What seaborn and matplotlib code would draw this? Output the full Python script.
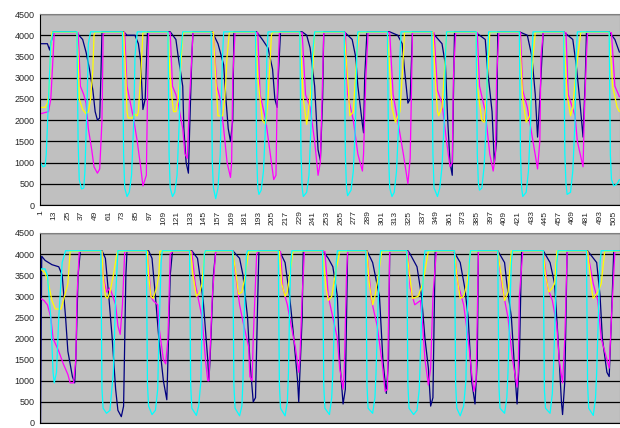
import numpy as np
import pandas as pd
import matplotlib
matplotlib.use("Agg")
import matplotlib.pyplot as plt
import seaborn as sns

# ---- top panel: sample index (t) and reading (v) per channel ----
top_cyan_t = [1, 3, 5, 6, 8, 10, 12,
              33, 34, 35, 37, 39, 40, 42, 43, 45,
              73, 74, 75, 77, 79, 81, 83, 84, 86,
              113, 114, 115, 117, 119, 121, 123, 124, 126,
              151, 152, 153, 155, 157, 159, 160, 161, 162,
              190, 191, 192, 193, 195, 197, 199, 200, 201,
              229, 230, 231, 232, 235, 237, 239, 240, 242,
              268, 269, 270, 271, 274, 276, 278, 279, 280,
              306, 307, 308, 310, 312, 314, 316, 317, 318,
              345, 346, 347, 350, 352, 354, 356, 357, 358,
              384, 385, 386, 387, 389, 391, 393, 394, 395,
              422, 423, 424, 425, 428, 430, 432, 433, 434,
              461, 462, 463, 464, 467, 469, 471, 472, 473,
              501, 502, 503, 505, 508, 510]
top_cyan_v = [1000, 900, 920, 1200, 2500, 3800, 4080,
              4080, 1500, 600, 380, 400, 800, 2500, 3800, 4080,
              4080, 1200, 400, 200, 300, 700, 2000, 3500, 4080,
              4080, 1200, 400, 200, 300, 700, 2000, 3500, 4080,
              4080, 1000, 400, 150, 400, 1200, 2500, 3500, 4080,
              4080, 1200, 400, 250, 350, 800, 2000, 3500, 4080,
              4080, 1200, 400, 200, 300, 700, 2000, 3500, 4080,
              4080, 1200, 400, 220, 350, 800, 2000, 3500, 4080,
              4080, 1200, 400, 200, 300, 800, 2000, 3500, 4080,
              4080, 1200, 400, 200, 400, 900, 2000, 3500, 4080,
              4080, 1200, 500, 350, 400, 900, 2000, 3500, 4080,
              4080, 1200, 400, 200, 300, 800, 2000, 3500, 4080,
              4080, 1200, 500, 250, 300, 800, 2000, 3500, 4080,
              4080, 1200, 600, 450, 500, 600]

top_yellow_t = [1, 5, 7, 8, 9, 10, 11, 33, 34, 35, 38, 41, 43, 45, 47, 48, 49, 74, 76, 77, 78, 82, 83, 86, 87, 89, 91,
                113, 115, 117, 118, 120, 122, 124, 126, 127, 153, 155, 157, 161, 163, 165, 167, 190, 192, 196, 199, 201, 204, 205,
                229, 232, 235, 236, 240, 242, 268, 271, 273, 276, 279, 281, 306, 310, 313, 317, 320, 321,
                346, 348, 350, 351, 354, 357, 358, 384, 385, 389, 391, 393, 396, 422, 425, 428, 431, 434, 436,
                461, 464, 467, 469, 472, 476, 501, 504, 508, 510]
top_yellow_v = [2300, 2300, 2400, 2600, 3000, 3700, 4070, 4070, 3500, 2500, 2250, 2150, 2200, 2500, 3200, 4000, 4070,
                4070, 3000, 2200, 2050, 2050, 2150, 2100, 2200, 3000, 4070, 4070, 3000, 2400, 2200, 2200, 2500, 3200, 4000, 4070,
                4070, 3000, 2100, 2100, 2500, 3500, 4070, 4070, 3000, 2000, 1900, 2500, 4000, 4070,
                4070, 2500, 1900, 2100, 3000, 4070, 4070, 3000, 2100, 2200, 3500, 4070, 4070, 2300, 1950, 2200, 3500, 4070,
                4070, 3000, 2200, 2100, 2300, 3500, 4070, 4070, 2800, 2000, 1950, 2500, 4070, 4070, 2500, 1950, 2100, 3500, 4070,
                4070, 2600, 2100, 2300, 3200, 4070, 4070, 2800, 2300, 2200]

top_magenta_t = [1, 8, 10, 12, 13, 34, 35, 36, 39, 41, 43, 46, 48, 51, 53, 55, 56, 57, 75, 77, 80, 83, 86, 89, 91, 94, 95, 96,
                 115, 117, 120, 122, 126, 128, 130, 132, 134, 135, 153, 156, 159, 162, 165, 168, 169, 170, 172,
                 192, 194, 199, 203, 206, 208, 209, 211, 231, 234, 238, 242, 245, 247, 249, 250,
                 269, 271, 276, 280, 284, 285, 287, 289, 308, 311, 315, 320, 324, 326, 327, 328,
                 347, 350, 354, 358, 361, 363, 364, 366, 385, 387, 392, 396, 399, 401, 402, 404,
                 423, 425, 429, 434, 438, 440, 441, 443, 463, 465, 471, 473, 478, 479, 481, 482, 503, 506, 510]
top_magenta_v = [2150, 2200, 2500, 3500, 4060, 4060, 3500, 2800, 2600, 2400, 1800, 1300, 900, 750, 850, 2000, 4000, 4060,
                 4060, 2800, 2400, 2000, 1500, 900, 450, 700, 2500, 4060, 4060, 2800, 2600, 2400, 1800, 1200, 1100, 2500, 3500, 4060,
                 4060, 2800, 2500, 1800, 1000, 650, 1000, 3000, 4060, 4060, 2600, 2000, 1200, 600, 700, 2500, 4060,
                 4060, 2600, 2300, 1500, 700, 1000, 3000, 4060, 4060, 2600, 2000, 1200, 800, 1200, 3000, 4060,
                 4060, 2600, 2000, 1200, 500, 1100, 2500, 4060, 4060, 2700, 2400, 1500, 900, 1000, 3000, 4060,
                 4060, 2800, 2200, 1200, 800, 1200, 3000, 4060, 4060, 2700, 2300, 1500, 850, 1500, 3500, 4060,
                 4060, 2600, 2100, 1500, 900, 2000, 3500, 4060, 4060, 2800, 2550]

top_navy_t = [1, 7, 9, 12, 32, 38, 41, 44, 47, 49, 51, 53, 54, 55, 74, 77, 84, 87, 89, 90, 91, 93, 95,
              115, 120, 122, 126, 127, 129, 131, 132, 134, 135, 152, 157, 162, 164, 166, 168, 170, 171,
              191, 196, 201, 205, 207, 209, 210, 212, 231, 235, 238, 242, 245, 247, 249, 250,
              268, 275, 278, 280, 284, 285, 286, 288, 308, 315, 319, 321, 324, 326, 328,
              345, 354, 357, 359, 361, 363, 364, 365, 383, 392, 394, 398, 400, 402, 403,
              422, 429, 433, 436, 438, 440, 443, 461, 469, 472, 475, 478, 480, 481, 501, 506, 510]
top_navy_v = [3800, 3800, 3650, 4080, 4080, 3900, 3600, 3200, 2700, 2200, 2000, 2050, 3000, 4080,
              4080, 4000, 4000, 3800, 3400, 2800, 2250, 2500, 4080, 4080, 3900, 3500, 2800, 1800, 1000, 750, 1700, 3500, 4080,
              4080, 3800, 3300, 2500, 1800, 1500, 2000, 4080, 4080, 3900, 3700, 3200, 2500, 2300, 3000, 4080,
              4080, 4000, 3700, 2800, 1300, 1050, 2500, 4080, 4080, 3900, 3500, 2800, 1900, 1700, 3000, 4080,
              4080, 4000, 3800, 3200, 2400, 2500, 4080, 4080, 3800, 3300, 2000, 1000, 700, 2500, 4080,
              4080, 3900, 3200, 2200, 1000, 1500, 4080, 4080, 4000, 3500, 2600, 1600, 2500, 4080,
              4080, 3900, 3300, 2500, 1600, 3000, 4080, 4080, 3900, 3600]

# ---- bottom panel ----
bot_cyan_t = [1, 5, 7, 10, 12, 13, 15, 17, 20, 23,
              54, 55, 56, 59, 62, 63, 65, 67, 69,
              94, 95, 96, 99, 102, 104, 105, 107, 108,
              132, 133, 134, 138, 140, 142, 143, 145, 146,
              170, 171, 172, 176, 178, 179, 180, 182, 183,
              210, 211, 212, 216, 218, 219, 220, 221, 222,
              249, 250, 251, 255, 257, 258, 260, 261, 262,
              287, 288, 289, 293, 295, 296, 298, 299, 300,
              323, 324, 325, 329, 332, 334, 336, 338, 339,
              365, 366, 367, 370, 373, 375, 376, 378, 379,
              403, 404, 405, 409, 411, 412, 414, 415, 416,
              443, 444, 445, 449, 451, 452, 454, 455, 456,
              481, 482, 483, 487, 489, 490, 492, 493, 494,
              510]
bot_cyan_v = [3650, 3650, 3500, 2500, 1200, 950, 1200, 2500, 3800, 4080,
              4080, 800, 350, 230, 300, 600, 1200, 3000, 4080,
              4080, 900, 400, 200, 300, 800, 2000, 3800, 4080,
              4080, 900, 350, 180, 400, 1000, 2500, 4000, 4080,
              4080, 900, 350, 170, 400, 1000, 2500, 4000, 4080,
              4080, 900, 350, 170, 500, 1200, 2800, 3800, 4080,
              4080, 900, 350, 200, 600, 1200, 3000, 3800, 4080,
              4080, 900, 350, 230, 600, 1200, 3000, 3800, 4080,
              4080, 900, 350, 200, 300, 800, 2500, 3800, 4080,
              4080, 900, 350, 170, 400, 1000, 2500, 3800, 4080,
              4080, 900, 350, 230, 600, 1200, 3000, 3800, 4080,
              4080, 800, 350, 230, 700, 1300, 3000, 3800, 4080,
              4080, 900, 350, 180, 600, 1200, 3000, 3800, 4080,
              4080]

bot_yellow_t = [1, 5, 8, 11, 14, 19, 21, 25, 27, 55, 56, 58, 60, 62, 65, 68, 69, 95, 96, 98, 100, 103, 105, 106,
                133, 135, 138, 141, 143, 145, 146, 170, 173, 175, 178, 181, 184, 211, 213, 216, 218, 220, 223,
                249, 252, 254, 257, 260, 264, 288, 290, 293, 295, 298, 301, 323, 328, 333, 337, 342,
                365, 367, 370, 373, 376, 379, 403, 407, 409, 412, 415, 443, 445, 448, 451, 453, 455,
                482, 486, 487, 491, 494, 497, 510]
bot_yellow_v = [3650, 3550, 3300, 2900, 2700, 2700, 2900, 3300, 4070, 4070, 3500, 3000, 2950, 3100, 3500, 4000, 4070,
                4070, 3500, 3000, 2950, 3200, 3500, 4070, 4070, 3500, 3000, 3100, 3300, 4000, 4070,
                4070, 3500, 3050, 3100, 3500, 4070, 4070, 3300, 3000, 3100, 3500, 4070,
                4070, 3200, 2900, 3000, 3500, 4070, 4070, 3300, 2800, 3000, 3500, 4070, 4070, 2950, 3000, 3300, 4070,
                4070, 3500, 2950, 3000, 3300, 4070, 4070, 3300, 2900, 3100, 4070, 4070, 3500, 3100, 3200, 3300, 4070,
                4070, 3100, 2950, 3100, 3300, 4070, 4070]

bot_magenta_t = [1, 4, 7, 10, 12, 17, 21, 25, 27, 30, 32, 33, 35, 55, 56, 59, 62, 67, 69, 71, 73, 75,
                 95, 98, 100, 104, 105, 109, 111, 113, 115, 117, 134, 137, 140, 143, 146, 148, 149, 152, 155,
                 170, 174, 176, 179, 184, 185, 187, 188, 191, 192, 212, 214, 218, 220, 225, 228, 229, 231, 233,
                 251, 254, 258, 262, 264, 267, 268, 270, 271, 288, 292, 297, 301, 304, 306, 307, 308,
                 324, 326, 330, 335, 337, 339, 342, 344, 346, 349, 365, 368, 373, 377, 380, 382, 384, 386,
                 403, 407, 412, 416, 420, 421, 422, 425, 443, 447, 451, 455, 457, 460, 462, 464,
                 482, 487, 491, 494, 499, 501, 503, 506, 510]
bot_magenta_v = [2950, 2900, 2800, 2500, 2000, 1700, 1400, 1150, 950, 950, 1500, 3000, 4060,
                 4060, 3500, 3100, 3200, 2800, 2300, 2100, 2800, 4060, 4060, 3000, 2900, 2800, 2300, 1500, 1400, 2000, 4000, 4060,
                 4060, 3300, 2900, 2500, 1500, 1000, 1000, 3000, 4060, 4060, 3200, 2800, 2400, 1800, 1100, 1000, 2000, 4000, 4060,
                 4060, 3200, 2800, 2500, 1800, 1200, 1500, 3000, 4060, 4060, 3000, 2500, 2000, 1300, 800, 1200, 3500, 4060,
                 4060, 2900, 2300, 1500, 750, 800, 2500, 4060, 4060, 3200, 2800, 2900, 2300, 1500, 900, 1300, 3000, 4060,
                 4060, 3300, 2800, 2000, 1200, 750, 1000, 4060, 4060, 3200, 2500, 1500, 850, 1200, 3000, 4060,
                 4060, 3200, 2900, 2300, 1500, 950, 2000, 4060, 4060, 3300, 2900, 2000, 1500, 1300, 2500, 4060, 4060]

bot_navy_t = [1, 2, 5, 11, 17, 20, 23, 25, 29, 31, 32, 34, 36, 55, 58, 61, 64, 67, 69, 72, 74, 76, 77,
              96, 99, 102, 105, 109, 112, 113, 115, 117, 134, 139, 141, 144, 146, 148, 149, 150, 153, 155,
              170, 176, 179, 183, 185, 188, 190, 192, 193, 211, 216, 220, 223, 227, 228, 231, 232,
              249, 254, 258, 262, 264, 267, 269, 271, 288, 293, 299, 302, 305, 307, 308,
              324, 326, 332, 336, 339, 342, 344, 346, 348, 364, 370, 374, 377, 380, 383, 385, 386,
              403, 409, 411, 415, 418, 420, 422, 424, 443, 449, 453, 456, 459, 460, 462, 464,
              482, 490, 493, 495, 499, 501, 503, 505, 510]
bot_navy_v = [0, 3950, 3850, 3750, 3700, 3500, 2500, 1700, 1100, 950, 1500, 3500, 4080,
              4080, 3900, 3000, 2000, 800, 300, 150, 400, 3500, 4080, 4080, 3900, 3000, 2000, 1000, 550, 1500, 3500, 4080,
              4080, 3900, 3500, 2900, 2200, 1500, 1000, 1500, 3500, 4080, 4080, 3900, 3500, 2500, 1500, 500, 600, 3000, 4080,
              4080, 3800, 3000, 2200, 1000, 500, 2500, 4080, 4080, 3900, 3700, 3000, 1500, 450, 800, 4080,
              4080, 3800, 3000, 1500, 700, 1500, 4080, 4080, 4000, 3700, 3000, 2000, 1300, 400, 600, 4080,
              4080, 3800, 3200, 2500, 1000, 450, 1500, 4080, 4080, 3800, 3300, 2500, 1200, 450, 1500, 4080,
              4080, 3800, 3300, 2000, 500, 200, 1000, 4080, 4080, 3800, 3000, 2000, 1200, 1100, 2500, 4080, 4080]

tick_labels = list(range(1, 506, 12))

order = ["navy", "magenta", "yellow", "cyan"]
palette = {"navy": "#000080", "magenta": "#FF00FF", "yellow": "#FFFF00", "cyan": "#00FFFF"}


def make_df(parts):
    frames = []
    for name, t, v in parts:
        frames.append(pd.DataFrame({"t": t, "v": v, "series": name}))
    return pd.concat(frames, ignore_index=True)


top_df = make_df([("navy", top_navy_t, top_navy_v), ("magenta", top_magenta_t, top_magenta_v),
                  ("yellow", top_yellow_t, top_yellow_v), ("cyan", top_cyan_t, top_cyan_v)])
bot_df = make_df([("navy", bot_navy_t, bot_navy_v), ("magenta", bot_magenta_t, bot_magenta_v),
                  ("yellow", bot_yellow_t, bot_yellow_v), ("cyan", bot_cyan_t, bot_cyan_v)])

sns.set_style("white")
plt.rcParams['font.family'] = ['Liberation Sans', 'DejaVu Sans']

fig = plt.figure(figsize=(6.2, 4.28), dpi=100)
ax1 = fig.add_axes([40 / 620, 1 - 205 / 428, 580 / 620, 191 / 428])
ax2 = fig.add_axes([40 / 620, 1 - 423 / 428, 580 / 620, 190 / 428])

for ax, df in [(ax1, top_df), (ax2, bot_df)]:
    ax.set_facecolor("#C0C0C0")
    ax.set_axisbelow(True)
    sns.lineplot(data=df, x="t", y="v", hue="series", hue_order=order, palette=palette,
                 estimator=None, sort=False, legend=False, linewidth=0.9, ax=ax)
    ax.set_xlim(0.5, 510.5)
    ax.set_ylim(0, 4500)
    ax.set_yticks(np.arange(0, 4501, 500))
    ax.yaxis.grid(True, color="black", linewidth=0.9)
    ax.xaxis.grid(False)
    ax.set_xlabel("")
    ax.set_ylabel("")
    ax.tick_params(axis="y", labelsize=6.5, length=2, pad=2)
    ax.set_xticks(np.arange(1, 511), minor=True)
    ax.tick_params(axis="x", which="both", length=2, width=0.5, color="black")
    for side in ["left", "bottom"]:
        ax.spines[side].set_color("black")
        ax.spines[side].set_linewidth(0.8)
    for side in ["top", "right"]:
        ax.spines[side].set_color("#808080")
        ax.spines[side].set_linewidth(0.8)

ax1.set_xticks(tick_labels)
ax1.set_xticklabels([str(v) for v in tick_labels], rotation=90, fontsize=6)
ax1.tick_params(axis="x", pad=2)
ax2.set_xticks([])
ax2.set_xticks(np.arange(1, 511), minor=True)

fig.savefig("out.png", dpi=100)
